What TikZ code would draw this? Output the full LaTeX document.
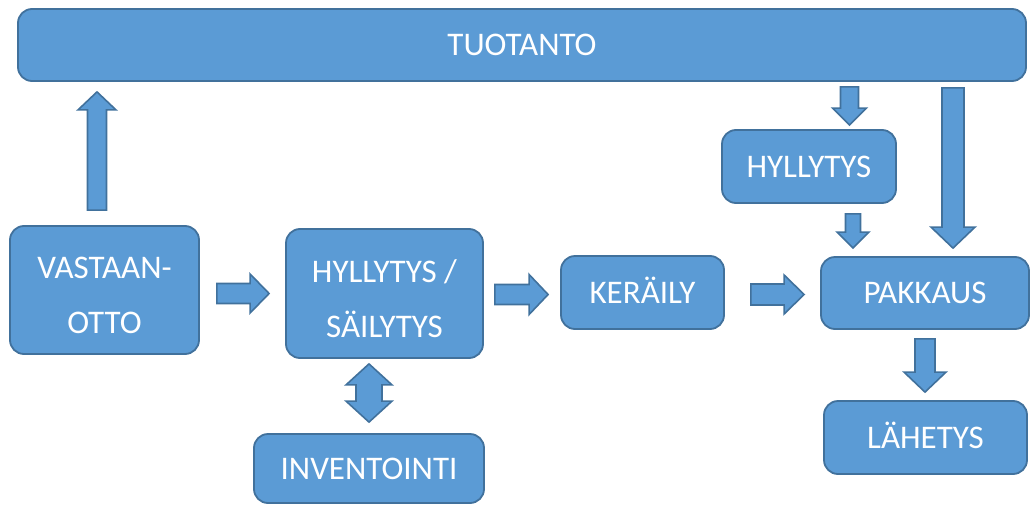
\documentclass[tikz,border=0pt]{standalone}
\usepackage{fontspec}
\setmainfont{Carlito}
\usetikzlibrary{calc}
\definecolor{boxfill}{HTML}{5B9BD5}
\definecolor{boxline}{HTML}{41719C}
\tikzset{
    box/.style={draw=boxline, fill=boxfill, line width=1.8pt, rounded corners=14pt,
        text=white, align=center, inner sep=0pt, font=\fontsize{33}{55}\selectfont},
    oneline/.style={text height=21pt, text depth=0pt},
    twoline/.style={text height=87pt, text depth=0pt},
    arrow shaft/.store in=\arshaft,
    arrow shaft=10pt,
    arrow head/.store in=\arhead,
    arrow head=20pt,
    arrow tip/.store in=\artip,
    arrow tip=20pt,
    blockarrow/.style={draw=boxline, fill=boxfill, line width=1.6pt, to path={
        let \p1=(\tikztostart), \p2=(\tikztotarget), \p3=($(\p2)!\artip!(\p1)$) in
        ($(\p1)!\arshaft!90:(\p2)$) -- ($(\p3)!\arshaft!-90:(\p1)$) -- ($(\p3)!\arhead!-90:(\p1)$)
        -- (\p2) -- ($(\p3)!\arhead!90:(\p1)$) -- ($(\p3)!\arshaft!90:(\p1)$)
        -- ($(\p1)!\arshaft!-90:(\p2)$) -- cycle}},
    dblarrow/.style={draw=boxline, fill=boxfill, line width=1.6pt, to path={
        let \p1=(\tikztostart), \p2=(\tikztotarget), \p3=($(\p2)!\artip!(\p1)$), \p4=($(\p1)!\artip!(\p2)$) in
        ($(\p4)!\arshaft!90:(\p2)$) -- ($(\p3)!\arshaft!-90:(\p1)$) -- ($(\p3)!\arhead!-90:(\p1)$)
        -- (\p2) -- ($(\p3)!\arhead!90:(\p1)$) -- ($(\p3)!\arshaft!90:(\p1)$)
        -- ($(\p4)!\arshaft!-90:(\p2)$) -- ($(\p4)!\arhead!-90:(\p2)$) -- (\p1)
        -- ($(\p4)!\arhead!90:(\p2)$) -- cycle}}
}
\begin{document}
\begin{tikzpicture}[x=1pt,y=-1pt]
      \useasboundingbox (0,0) rectangle (1031,506);
      \node[box,oneline,minimum width=1008pt,minimum height=72pt] (tuot) at (522,45) {TUOTANTO};
      \node[box,twoline,minimum width=189pt,minimum height=128pt] (vast) at (104.5,290) {VASTAAN-\\OTTO};
      \node[box,twoline,minimum width=197pt,minimum height=129pt] (hyl) at (384.5,293.5) {HYLLYTYS /\\SÄILYTYS};
      \node[box,oneline,minimum width=163pt,minimum height=73pt] (ker) at (642.5,292.5) {KERÄILY};
      \node[box,oneline,minimum width=208pt,minimum height=72pt] (pak) at (925,293) {PAKKAUS};
      \node[box,oneline,minimum width=174pt,minimum height=73pt] (hyl2) at (809,166.5) {HYLLYTYS};
      \node[box,oneline,minimum width=203pt,minimum height=73pt] (lah) at (925.5,437.5) {LÄHETYS};
      \node[box,oneline,minimum width=230pt,minimum height=69pt] (inv) at (369,468.5) {INVENTOINTI};
      \draw[blockarrow,arrow shaft=9.5pt,arrow head=19pt,arrow tip=18pt]
            ($(vast.north)+(-7.5,-15)$) to ($(vast.north |- tuot.south)+(-7.5,10)$);
      \draw[blockarrow,arrow shaft=10pt,arrow head=19.5pt,arrow tip=19pt]
            ($(vast.east |- hyl.west)+(17,0)$) to ($(hyl.west)+(-16,0)$);
      \draw[blockarrow,arrow shaft=10pt,arrow head=20pt,arrow tip=19pt]
            ($(hyl.east)+(11,1)$) to ($(ker.west |- hyl.east)+(-12,1)$);
      \draw[blockarrow,arrow shaft=10.5pt,arrow head=19.5pt,arrow tip=20pt]
            ($(ker.east)+(26,2)$) to ($(pak.west |- ker.east)+(-16,2)$);
      \draw[blockarrow,arrow shaft=9pt,arrow head=17pt,arrow tip=17pt]
            ($(hyl2.north |- tuot.south)+(40.5,5)$) to ($(hyl2.north)+(40.5,-4)$);
      \draw[blockarrow,arrow shaft=7.5pt,arrow head=16pt,arrow tip=16pt]
            ($(hyl2.south)+(44,10)$) to ($(hyl2.south |- pak.north)+(44,-8)$);
      \draw[blockarrow,arrow shaft=11pt,arrow head=22pt,arrow tip=21pt]
            ($(pak.north |- tuot.south)+(28,6)$) to ($(pak.north)+(28,-8)$);
      \draw[blockarrow,arrow shaft=10pt,arrow head=21pt,arrow tip=20pt]
            ($(pak.south)+(0,9)$) to ($(pak.south |- lah.north)+(0,-8)$);
      \draw[dblarrow,arrow shaft=13pt,arrow head=23pt,arrow tip=21pt]
            ($(inv.north |- hyl.south)+(0,5)$) to ($(inv.north)+(0,-11)$);
\end{tikzpicture}
\end{document}
